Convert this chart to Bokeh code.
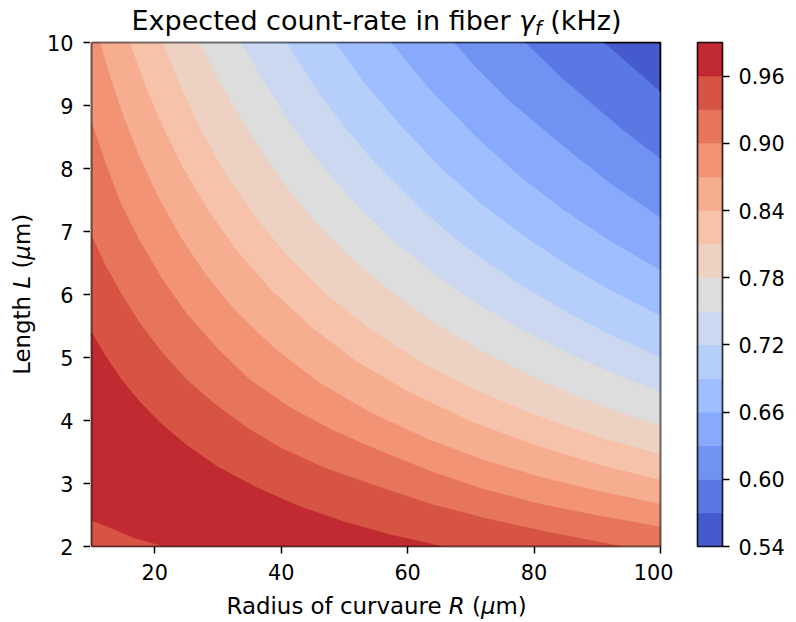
import numpy as np
from bokeh.plotting import figure
from bokeh.layouts import row, column
from bokeh.models import FixedTicker, PrintfTickFormatter, Range1d
from bokeh.core.properties import value
from bokeh.embed import file_html
from bokeh.resources import INLINE

# ---------------- data ----------------
levels = [0.54, 0.57, 0.60, 0.63, 0.66, 0.69, 0.72, 0.75, 0.78, 0.81,
          0.84, 0.87, 0.90, 0.93, 0.96, 0.99]
band_colors = ["#455bcd", "#5978e3", "#7092f3", "#87aafc", "#9fbeff",
               "#b5cefa", "#cbd8ef", "#dddddd", "#edd2c3", "#f6c2aa",
               "#f7ad8f", "#f29375", "#e7755c", "#d75344", "#c12a30"]
R_lim = [10, 100]
L_lim = [2, 10]
x_ticks = [20, 40, 60, 80, 100]
y_ticks = [2, 3, 4, 5, 6, 7, 8, 9, 10]
cbar_ticks = [0.54, 0.60, 0.66, 0.72, 0.78, 0.84, 0.90, 0.96]

# iso-lines: radius R (um) and length L (um) of points on each contour level
iso057_R = [91.0, 95.5, 100.0]
iso057_L = [10.0, 9.61, 9.21]
iso060_R = [78.6, 84.0, 89.2, 94.5, 100.0]
iso060_L = [10.0, 9.47, 9.02, 8.57, 8.15]
iso063_R = [67.3, 70.7, 76.0, 85.5, 92.0, 100.0]
iso063_L = [10.0, 9.61, 9.08, 8.28, 7.76, 7.22]
iso066_R = [57.4, 63.0, 71.0, 78.0, 84.8, 91.8, 100.0]
iso066_L = [10.0, 9.31, 8.48, 7.85, 7.33, 6.86, 6.38]
iso069_R = [48.5, 53.0, 58.8, 65.0, 71.5, 78.0, 85.5, 92.5, 100.0]
iso069_L = [10.0, 9.37, 8.69, 8.03, 7.45, 6.95, 6.45, 6.04, 5.66]
iso072_R = [40.8, 45.0, 49.9, 55.0, 61.5, 66.0, 71.1, 78.0, 85.5, 92.5, 100.0]
iso072_L = [10.0, 9.34, 8.67, 8.07, 7.41, 7.01, 6.61, 6.14, 5.70, 5.34, 5.00]
iso075_R = [33.6, 37.0, 41.0, 46.0, 52.0, 58.0, 64.5, 71.0, 78.0, 85.5, 92.5, 100.0]
iso075_L = [10.0, 9.42, 8.77, 8.09, 7.41, 6.83, 6.30, 5.85, 5.44, 5.06, 4.75, 4.45]
iso078_R = [27.1, 30.0, 33.0, 37.0, 41.0, 46.0, 52.0, 58.0, 64.5, 71.0, 78.0,
            85.5, 92.5, 100.0]
iso078_L = [10.0, 9.42, 8.89, 8.26, 7.68, 7.08, 6.49, 6.00, 5.53, 5.14, 4.78,
            4.43, 4.16, 3.92]
iso081_R = [21.2, 24.0, 27.5, 31.0, 35.5, 41.0, 47.0, 54.0, 62.0, 71.0, 80.0,
            90.0, 100.0]
iso081_L = [10.0, 9.31, 8.57, 7.95, 7.28, 6.61, 6.01, 5.45, 4.93, 4.47, 4.09,
            3.74, 3.46]
iso084_R = [16.0, 18.5, 21.0, 24.5, 28.5, 33.0, 38.5, 45.0, 52.0, 60.0, 70.0,
            80.0, 90.0, 100.0]
iso084_L = [10.0, 9.31, 8.71, 8.00, 7.32, 6.69, 6.06, 5.46, 4.93, 4.46, 3.98,
            3.61, 3.30, 3.05]
iso087_R = [11.3, 13.0, 15.0, 17.5, 20.5, 24.0, 28.0, 33.0, 39.0, 46.0, 54.0,
            63.0, 72.0, 81.0, 90.5, 100.0]
iso087_L = [10.0, 9.43, 8.83, 8.20, 7.55, 6.92, 6.32, 5.71, 5.14, 4.60, 4.13,
            3.71, 3.37, 3.10, 2.87, 2.67]
iso090_R = [10.0, 12.0, 14.5, 17.5, 21.0, 25.0, 30.0, 35.0, 41.0, 48.0, 56.0,
            64.0, 72.0, 81.0, 90.5, 100.0]
iso090_L = [8.73, 8.14, 7.47, 6.87, 6.27, 5.70, 5.13, 4.65, 4.23, 3.85, 3.50,
            3.18, 2.91, 2.67, 2.48, 2.31]
iso093_R = [10.0, 12.0, 14.5, 17.5, 21.0, 25.0, 29.5, 34.5, 40.0, 47.0, 55.0,
            64.0, 73.0, 83.0, 93.9]
iso093_L = [6.93, 6.50, 6.04, 5.56, 5.10, 4.65, 4.26, 3.89, 3.56, 3.24, 2.96,
            2.66, 2.43, 2.21, 2.00]
iso096_R = [10.0, 12.0, 14.5, 17.5, 21.0, 25.0, 30.0, 36.0, 43.0, 50.0, 57.5, 65.4]
iso096_L = [5.40, 5.05, 4.68, 4.31, 3.95, 3.61, 3.26, 2.94, 2.63, 2.39, 2.18, 2.00]
# second branch of the 0.96 contour in the lower-left corner
iso096b_R = [10.0, 13.0, 16.7, 21.3]
iso096b_L = [2.41, 2.29, 2.13, 2.00]

iso_lines = [(iso057_R, iso057_L), (iso060_R, iso060_L), (iso063_R, iso063_L),
             (iso066_R, iso066_L), (iso069_R, iso069_L), (iso072_R, iso072_L),
             (iso075_R, iso075_L), (iso078_R, iso078_L), (iso081_R, iso081_L),
             (iso084_R, iso084_L), (iso087_R, iso087_L), (iso090_R, iso090_L),
             (iso093_R, iso093_L), (iso096_R, iso096_L)]

# ---------------- layout (pixels) ----------------
W, H = 796, 622
YLAB_W = 40             # strip with the rotated y label
YTICK_W = 50            # strip with y ticks and tick labels
FRAME_L, FRAME_T = 91, 42
FRAME_W, FRAME_H = 569, 504
TITLE_H = 40
TOP_B, BOT_B = FRAME_T - TITLE_H, 40
MAIN_LB = FRAME_L - YLAB_W - YTICK_W
MAIN_RB = 13
MAIN_W = MAIN_LB + FRAME_W + MAIN_RB
CB_W = W - YLAB_W - YTICK_W - MAIN_W
ROW_H = TOP_B + FRAME_H + BOT_B
XLAB_H = H - TITLE_H - ROW_H
RIGHT_X0 = YLAB_W + YTICK_W          # page x where the right column starts
FONT = "DejaVu Sans"
BASE_FIX = 0.33         # baseline correction of Bokeh text glyphs (em)
TICK_FS = "20.8px"
SPINE_W = 1.6
L_PER_PX = (L_lim[1] - L_lim[0]) / FRAME_H


def strip(width, height, yr=None):
    f = figure(width=width, height=height, x_range=Range1d(0, width),
               y_range=yr if yr is not None else Range1d(height, 0),
               output_backend="svg", toolbar_location=None, min_border=0)
    f.axis.visible = False
    f.grid.visible = False
    f.outline_line_color = None
    f.background_fill_color = "white"
    f.border_fill_color = "white"
    return f


def put(f, x, y, text, size, italic=False, align="left", angle=0.0):
    # (x, y) is the wanted alphabetic baseline point, in strip pixels
    if angle == 0.0:
        y = y - BASE_FIX * size
    else:
        x = x - BASE_FIX * size
    f.text(x=[x], y=[y], text=[text], text_font=value(FONT),
           text_font_size=value(f"{size:.1f}px"), text_color="black",
           text_font_style="italic" if italic else "normal",
           text_align=align, text_baseline="alphabetic", angle=angle)


# ---------------- title (page x minus RIGHT_X0) ----------------
tf = strip(W - RIGHT_X0, TITLE_H)
TS = 27.0
SP = 0.318 * TS
tx, tb = 510.0 - RIGHT_X0, 29.0
put(tf, tx, tb, "Expected count-rate in fiber", TS, align="right")
gx = tx + SP
put(tf, gx, tb, "\u03b3", TS, italic=True)
fx = gx + 0.592 * TS
put(tf, fx, tb + 5, "f", 0.7 * TS, italic=True)
put(tf, fx + 0.352 * 0.7 * TS + SP, tb, "(kHz)", TS)

# ---------------- x label ----------------
AS = 22.9
ASP = 0.318 * AS
xf = strip(W - RIGHT_X0, XLAB_H)
xa, xb = 441.0 - RIGHT_X0, 27.0
put(xf, xa, xb, "Radius of curvaure", AS, align="right")
rx = xa + ASP
put(xf, rx, xb, "R", AS, italic=True)
qx_ = rx + 0.695 * AS + ASP
put(xf, qx_, xb, "(", AS)
mx = qx_ + 0.390 * AS
put(xf, mx, xb, "\u03bc", AS, italic=True)
put(xf, mx + 0.636 * AS, xb, "m)", AS)

# ---------------- y label (rotated, reads upwards; page pixels) ----------------
yf = strip(YLAB_W, H)
ya, yb = 295.4, 29.0
rot = np.pi / 2
put(yf, yb, ya, "Length", AS, align="right", angle=rot)
ly = ya - ASP
put(yf, yb, ly, "L", AS, italic=True, angle=rot)
qy_ = ly - 0.557 * AS - ASP
put(yf, yb, qy_, "(", AS, angle=rot)
my = qy_ - 0.390 * AS
put(yf, yb, my, "\u03bc", AS, italic=True, angle=rot)
put(yf, yb, my - 0.636 * AS, "m)", AS, angle=rot)

# ---------------- y ticks strip (same L scale as the main frame) ----------------
yt = strip(YTICK_W, H, yr=Range1d(L_lim[1] - (H - FRAME_T) * L_PER_PX,
                                  L_lim[1] + FRAME_T * L_PER_PX))
yt.segment(x0=[YTICK_W - 7] * len(y_ticks), x1=[YTICK_W] * len(y_ticks),
           y0=y_ticks, y1=y_ticks, line_color="black", line_width=1.5)
yt.text(x=[73 - YLAB_W] * len(y_ticks), y=y_ticks,
        text=[str(t) for t in y_ticks], text_font=value(FONT),
        text_font_size=value(TICK_FS), text_color="black",
        text_align="right", text_baseline="alphabetic")

# ---------------- main contour plot ----------------
p = figure(width=MAIN_W, height=ROW_H, x_range=(R_lim[0], R_lim[1]),
           y_range=(L_lim[0], L_lim[1]), output_backend="svg",
           toolbar_location=None, y_axis_location=None,
           min_border_left=MAIN_LB, min_border_top=TOP_B,
           min_border_bottom=BOT_B, min_border_right=MAIN_RB)
p.background_fill_color = band_colors[0]
p.border_fill_color = "white"
p.outline_line_color = "black"
p.outline_line_width = SPINE_W
p.grid.visible = False

xs, ys, fc = [], [], []
for k, (Rs, Ls) in enumerate(iso_lines, start=1):
    qx, qy = list(Rs), list(Ls)
    if Rs[-1] >= R_lim[1] and Ls[-1] > L_lim[0]:
        qx.append(R_lim[1]); qy.append(L_lim[0])
    qx.append(R_lim[0]); qy.append(L_lim[0])
    if Ls[0] >= L_lim[1] and Rs[0] > R_lim[0]:
        qx.append(R_lim[0]); qy.append(L_lim[1])
    xs.append(qx); ys.append(qy); fc.append(band_colors[k])
xs.append(list(iso096b_R) + [R_lim[0]])
ys.append(list(iso096b_L) + [L_lim[0]])
fc.append(band_colors[13])
p.patches(xs, ys, fill_color=fc, line_color=fc, line_width=0.6)
# spines drawn over the filled bands
p.quad(left=[R_lim[0]], right=[R_lim[1]], bottom=[L_lim[0]], top=[L_lim[1]],
       fill_color=None, line_color="black", line_width=SPINE_W)


def style_axis(ax):
    ax.axis_line_color = None
    ax.major_tick_line_color = "black"
    ax.major_tick_line_width = 1.5
    ax.major_tick_out = 7
    ax.major_tick_in = 0
    ax.minor_tick_line_color = None
    ax.major_label_text_font = FONT
    ax.major_label_text_font_size = TICK_FS
    ax.major_label_text_color = "black"


style_axis(p.xaxis[0])
p.xaxis[0].major_label_standoff = 10
p.xaxis.ticker = FixedTicker(ticks=x_ticks)

# ---------------- colour bar ----------------
cb = figure(width=CB_W, height=ROW_H, x_range=(0, 1),
            y_range=(levels[0], levels[-1]), output_backend="svg",
            toolbar_location=None, y_axis_location="right",
            min_border_left=24, min_border_right=CB_W - 24 - 25,
            min_border_top=TOP_B, min_border_bottom=BOT_B)
cb.quad(left=0, right=1, bottom=levels[:-1], top=levels[1:],
        fill_color=band_colors, line_color=band_colors, line_width=0.5)
cb.quad(left=[0], right=[1], bottom=[levels[0]], top=[levels[-1]],
        fill_color=None, line_color="black", line_width=SPINE_W)
cb.outline_line_color = "black"
cb.outline_line_width = SPINE_W
cb.grid.visible = False
cb.xaxis.visible = False
cax = cb.yaxis[0]
style_axis(cax)
cax.ticker = FixedTicker(ticks=cbar_ticks)
cax.formatter = PrintfTickFormatter(format="%.2f")
cax.major_label_standoff = 9

right_col = column(tf, row(p, cb, spacing=0), xf, spacing=0)
layout = row(yf, yt, right_col, spacing=0)
open("out.html", "w").write(file_html(layout, INLINE))
